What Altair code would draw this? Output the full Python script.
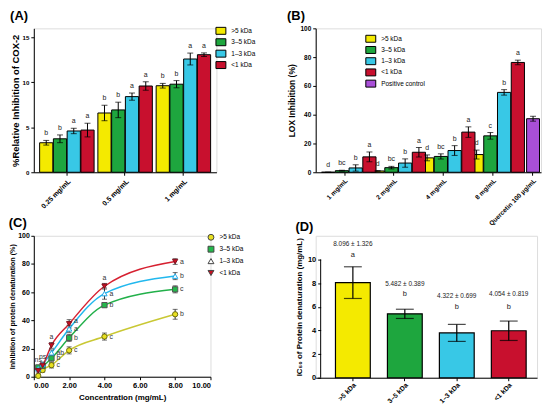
import altair as alt
import pandas as pd

FONT = "Liberation Sans"
fractions = [">5 kDa", "3–5 kDa", "1–3 kDa", "<1 kDa"]
bar_colors = ["#f4ea00", "#1ea63e", "#38c8e6", "#c8102e"]
purple = "#a94fd8"

# ---------- (A) COX-2 ----------
a_conc = ["0.25 mg/mL", "0.5 mg/mL", "1 mg/mL"]
a_mean = [[3.28, 6.59, 9.62], [3.72, 6.93, 9.79], [4.59, 8.41, 12.59], [4.69, 9.59, 13.07]]
a_sd = [[0.26, 0.86, 0.26], [0.43, 0.86, 0.4], [0.3, 0.4, 0.66], [0.76, 0.47, 0.2]]
a_let = [["b", "b", "b"], ["b", "b", "b"], ["a", "a", "a"], ["a", "a", "a"]]

# ---------- (B) LOX ----------
b_conc = ["1 mg/mL", "2 mg/mL", "4 mg/mL", "8 mg/mL"]
b_mean = [[0.0, 0.9, 10.0, 12.3], [1.1, 3.2, 11.0, 25.3], [3.0, 6.4, 15.1, 55.5], [10.7, 13.9, 27.9, 76.3]]
b_sd = [[0.0, 0.2, 2.05, 3.1], [0.3, 0.9, 1.8, 2.3], [2.2, 2.9, 3.4, 1.9], [3.4, 3.3, 3.65, 1.6]]
b_let = [["d", "d", "d", "d"], ["bc", "bc", "bc", "c"], ["b", "b", "b", "b"], ["a", "a", "a", "a"]]
q_label = ["Quercetin 100 µg/mL"]
q_mean = [37.2]
q_sd = [1.7]

# ---------- (C) protein denaturation ----------
c_x = [0.25, 0.5, 1, 2, 4, 8]
c_mean = [[0.6, 4.7, 8.2, 18.7, 28.5, 44.3],
          [6.6, 7.7, 13.1, 27.6, 50.8, 62.0],
          [5.6, 8.9, 17.0, 34.0, 59.0, 71.4],
          [4.2, 8.0, 22.2, 37.5, 64.2, 81.7]]
c_sd = [[0.8, 1.4, 2.0, 2.5, 2.5, 3.5],
        [1.5, 1.5, 2.0, 2.5, 1.5, 2.5],
        [1.5, 1.5, 2.0, 2.5, 4.0, 2.5],
        [1.5, 1.5, 2.0, 3.0, 2.0, 2.0]]
c_right = [(1, 17.0, "ab"), (1, 13.1, "b"), (1, 8.2, "c"),
           (2, 39.5, "a"), (2, 34.0, "a"), (2, 27.6, "b"), (2, 18.7, "c"),
           (4, 59.0, "a"), (4, 50.8, "b"), (4, 28.5, "c"),
           (8, 81.7, "a"), (8, 71.4, "b"), (8, 62.0, "c"), (8, 44.3, "b")]
c_above = [(1, 24.5, "a"), (4, 66.5, "a"), (0.25, 8.5, "ns"), (0.5, 10.5, "ns")]
line_colors = ["#c9c834", "#22b04a", "#22b8ee", "#d62030"]
pt_fill = ["#e8e020", "#22b84a", "#ffffff", "#c81020"]
pt_stroke = ["#6a6a10", "#555555", "#1ea8e8", "#801020"]

# ---------- (D) IC50 ----------
d_mean = [8.04, 5.40, 3.79, 3.97]
d_sd = [1.34, 0.39, 0.72, 0.82]
d_text = ["8.096 ± 1.326", "5.482 ± 0.389", "4.322 ± 0.699", "4.054 ± 0.819"]
d_text_y = [11.3, 7.9, 6.87, 7.05]
d_let = ["a", "b", "b", "b"]
d_let_y = [10.4, 7.08, 5.95, 5.95]


def ax(**kw):
    base = dict(domainColor="black", tickColor="black", domainWidth=1, tickWidth=1, tickSize=3,
                labelFont=FONT, labelFontWeight="bold", labelFontSize=7, labelColor="black",
                labelPadding=2, labelOverlap=False, titleFont=FONT, titleFontWeight="bold",
                titleFontSize=9, titleColor="black", grid=False)
    base.update(kw)
    return alt.Axis(**base)


def ptitle(t):
    return alt.Title(t, anchor="start", frame="bounds", font=FONT, fontSize=13,
                     fontWeight="bold", color="black", offset=2)


def legend(x, y, rowpad, **kw):
    base = dict(title=None, orient="none", legendX=x, legendY=y, labelFont=FONT, labelFontSize=6.5,
                labelColor="black", rowPadding=rowpad, symbolStrokeColor="black",
                symbolStrokeWidth=1, labelOffset=5)
    base.update(kw)
    return alt.Legend(**base)


rect_sym = "M-1,-0.7H1V0.7H-1Z"

# ---- A ----
rows = []
for i, f in enumerate(fractions):
    for j, c in enumerate(a_conc):
        m, s = a_mean[i][j], a_sd[i][j]
        rows.append(dict(conc=c, frac=f, mean=m, lo=m - s, hi=m + s, letter=a_let[i][j]))
dfA = pd.DataFrame(rows)
axAy = ax(values=[0, 5, 10, 15], titleFontSize=9.5, labelFontSize=6.2, titlePadding=2)
tA = "%Relative Inhibition of COX-2"
scA = alt.Scale(domain=[0, 15])
baseA = alt.Chart(dfA).encode(
    x=alt.X("conc:N", sort=a_conc, title=None,
            scale=alt.Scale(paddingInner=0.065, paddingOuter=0.1),
            axis=ax(labelAngle=-45)),
    xOffset=alt.XOffset("frac:N", sort=fractions, scale=alt.Scale(paddingInner=0.04)),
)
barsA = baseA.mark_bar(stroke="black", strokeWidth=1).encode(
    y=alt.Y("mean:Q", scale=scA, title=tA, axis=axAy),
    color=alt.Color("frac:N", scale=alt.Scale(domain=fractions, range=bar_colors),
                    legend=legend(183, -3, 0.5, symbolType=rect_sym, symbolSize=100)))
ruleA = baseA.mark_rule(color="black").encode(
    y=alt.Y("lo:Q", title=tA, axis=axAy), y2="hi:Q")
capHA = baseA.mark_tick(color="black", thickness=1, size=6).encode(
    y=alt.Y("hi:Q", title=tA, axis=axAy))
capLA = baseA.mark_tick(color="black", thickness=1, size=6).encode(
    y=alt.Y("lo:Q", title=tA, axis=axAy))
txtA = baseA.mark_text(font=FONT, fontSize=7, baseline="bottom", dy=-4, color="#222").encode(
    y=alt.Y("hi:Q", title=tA, axis=axAy), text="letter:N")
chartA = alt.layer(barsA, ruleA, capHA, capLA, txtA).properties(
    width=184, height=145, title=ptitle("(A)"))

# ---- B ----
rows = []
for i, f in enumerate(fractions):
    for j, c in enumerate(b_conc):
        m, s = b_mean[i][j], b_sd[i][j]
        rows.append(dict(conc=c, frac=f, mean=m, lo=m - s, hi=m + s, letter=b_let[i][j]))
dfB = pd.DataFrame(rows)
axBy = ax(values=[0, 20, 40, 60, 80, 100], titleFontSize=8.5, labelFontSize=6.5)
tB = "LOX Inhibition (%)"
scB = alt.Scale(domain=[0, 100])
baseB = alt.Chart(dfB).encode(
    x=alt.X("conc:N", sort=b_conc, title=None,
            scale=alt.Scale(paddingInner=0.07, paddingOuter=0.312, align=0.19),
            axis=ax(labelAngle=-45, labelFontSize=6.5)),
    xOffset=alt.XOffset("frac:N", sort=fractions, scale=alt.Scale(paddingInner=0.04)),
)
barsB = baseB.mark_bar(stroke="black", strokeWidth=1).encode(
    y=alt.Y("mean:Q", scale=scB, title=tB, axis=axBy),
    color=alt.Color("frac:N", scale=alt.Scale(domain=fractions + ["Positive control"],
                                              range=bar_colors + [purple]),
                    legend=legend(50, 5, 0.3, symbolType=rect_sym, symbolSize=100)))
ruleB = baseB.mark_rule(color="black").encode(y=alt.Y("lo:Q", title=tB, axis=axBy), y2="hi:Q")
capHB = baseB.mark_tick(color="black", thickness=1, size=6).encode(
    y=alt.Y("hi:Q", title=tB, axis=axBy))
capLB = baseB.mark_tick(color="black", thickness=1, size=6).encode(
    y=alt.Y("lo:Q", title=tB, axis=axBy))
txtB = baseB.mark_text(font=FONT, fontSize=7, baseline="bottom", dy=-4, color="#222").encode(
    y=alt.Y("hi:Q", title=tB, axis=axBy), text="letter:N")
layerB4 = alt.layer(barsB, ruleB, capHB, capLB, txtB)

dfQ = pd.DataFrame(dict(conc=q_label, mean=q_mean, lo=[m - s for m, s in zip(q_mean, q_sd)],
                        hi=[m + s for m, s in zip(q_mean, q_sd)]))
baseQ = alt.Chart(dfQ).encode(
    x=alt.X("conc:N", title=None,
            scale=alt.Scale(paddingInner=0.848, paddingOuter=1, align=1),
            axis=ax(labelAngle=-45, labelFontSize=6.5, orient="bottom", domain=False)))
barQ = baseQ.mark_bar(stroke="black", strokeWidth=1, width=13, color=purple).encode(
    y=alt.Y("mean:Q", title=tB, axis=axBy))
ruleQ = baseQ.mark_rule(color="black").encode(y=alt.Y("lo:Q", title=tB, axis=axBy), y2="hi:Q")
capHQ = baseQ.mark_tick(color="black", thickness=1, size=6).encode(
    y=alt.Y("hi:Q", title=tB, axis=axBy))
capLQ = baseQ.mark_tick(color="black", thickness=1, size=6).encode(
    y=alt.Y("lo:Q", title=tB, axis=axBy))
layerQ = alt.layer(barQ, ruleQ, capHQ, capLQ)

chartB = alt.layer(layerB4, layerQ).resolve_scale(x="independent").properties(
    width=227, height=145, title=ptitle("(B)"))

# ---- C ----
rows = []
for i, f in enumerate(fractions):
    for j, xv in enumerate(c_x):
        m, s = c_mean[i][j], c_sd[i][j]
        rows.append(dict(x=xv, frac=f, mean=m, lo=m - s, hi=m + s))
dfC = pd.DataFrame(rows)
axCx = ax(values=[0, 2, 4, 6, 8, 10], format=".2f", labelFontSize=7.5, titleFontSize=8)
axCy = ax(values=[0, 20, 40, 60, 80, 100], labelFontSize=7, titleFontSize=7.2,
          labelPadding=1.5, titlePadding=1)
tCx = "Concentration (mg/mL)"
tCy = "Inhibition of protein denaturation (%)"
xC = alt.X("x:Q", scale=alt.Scale(domain=[0, 10]), title=tCx, axis=axCx)
xC2 = alt.X("x:Q", title=tCx, axis=axCx)
lineC = alt.Chart(dfC).mark_line(interpolate="monotone", strokeWidth=1.5).encode(
    x=xC, y=alt.Y("mean:Q", scale=alt.Scale(domain=[0, 100]), title=tCy, axis=axCy),
    stroke=alt.Stroke("frac:N", sort=fractions,
                      scale=alt.Scale(domain=fractions, range=line_colors), legend=None))
errC = alt.Chart(dfC).mark_errorbar(ticks={"size": 5, "color": "#333"}, color="#333").encode(
    x=xC2, y=alt.Y("lo:Q", title=tCy, axis=axCy), y2="hi:Q")
legC = legend(175, -2, 1.0, symbolSize=35, labelFontSize=6.5, symbolStrokeColor="#444")
ptC = alt.Chart(dfC).mark_point(filled=True, size=28, strokeWidth=1, opacity=1).encode(
    x=xC2, y=alt.Y("mean:Q", title=tCy, axis=axCy),
    shape=alt.Shape("frac:N", sort=fractions,
                    scale=alt.Scale(domain=fractions,
                                    range=["circle", "square", "triangle-up", "triangle-down"]),
                    legend=legC),
    color=alt.Color("frac:N", sort=fractions, scale=alt.Scale(domain=fractions, range=pt_fill),
                    legend=legC),
    stroke=alt.Stroke("frac:N", sort=fractions, scale=alt.Scale(domain=fractions, range=pt_stroke),
                      legend=None))
dfCr = pd.DataFrame(c_right, columns=["x", "y", "t"])
dfCa = pd.DataFrame(c_above, columns=["x", "y", "t"])
txtCr = alt.Chart(dfCr).mark_text(font=FONT, fontSize=7, align="left", dx=5, color="#333").encode(
    x=xC2, y=alt.Y("y:Q", title=tCy, axis=axCy), text="t:N")
txtCa = alt.Chart(dfCa).mark_text(font=FONT, fontSize=7, baseline="bottom", dy=-2, color="#333").encode(
    x=xC2, y=alt.Y("y:Q", title=tCy, axis=axCy), text="t:N")
chartC = alt.layer(lineC, errC, ptC, txtCr, txtCa).resolve_scale(stroke="independent").properties(
    width=178, height=142, title=ptitle("(C)"))

# ---- D ----
dfD = pd.DataFrame(dict(frac=fractions, mean=d_mean, lo=[m - s for m, s in zip(d_mean, d_sd)],
                        hi=[m + s for m, s in zip(d_mean, d_sd)], label=d_text, label_y=d_text_y,
                        letter=d_let, letter_y=d_let_y))
axDy = ax(values=[0, 2, 4, 6, 8, 10], labelFontSize=7.5, titleFontSize=8, domain=False, offset=-5)
tD = "IC₅₀ of Protein denaturation (mg/mL)"
baseD = alt.Chart(dfD).encode(
    x=alt.X("frac:N", sort=fractions, title=None,
            scale=alt.Scale(paddingInner=0.33, paddingOuter=0.295, align=0.645),
            axis=ax(labelAngle=-45, labelFontSize=6.8, labelPadding=1)))
barsD = baseD.mark_bar(stroke="black", strokeWidth=1.2).encode(
    y=alt.Y("mean:Q", scale=alt.Scale(domain=[0, 11.17]), title=tD, axis=axDy),
    color=alt.Color("frac:N", scale=alt.Scale(domain=fractions, range=bar_colors), legend=None))
axisD = alt.Chart(dfD.head(1)).mark_rule(color="black", strokeWidth=1).encode(
    x=alt.value(5), y=alt.Y(datum=0, title=tD, axis=axDy), y2=alt.datum(10))
ruleD = baseD.mark_rule(color="black", strokeWidth=1.2).encode(
    y=alt.Y("lo:Q", title=tD, axis=axDy), y2="hi:Q")
capHD = baseD.mark_tick(color="black", thickness=1.2, size=18).encode(
    y=alt.Y("hi:Q", title=tD, axis=axDy))
capLD = baseD.mark_tick(color="black", thickness=1.2, size=18).encode(
    y=alt.Y("lo:Q", title=tD, axis=axDy))
lblD = baseD.mark_text(font=FONT, fontSize=6.5, color="#222").encode(
    y=alt.Y("label_y:Q", title=tD, axis=axDy), text="label:N")
letD = baseD.mark_text(font=FONT, fontSize=7.5, color="#222").encode(
    y=alt.Y("letter_y:Q", title=tD, axis=axDy), text="letter:N")
chartD = alt.layer(barsD, axisD, ruleD, capHD, capLD, lblD, letD).properties(
    width=223, height=143, title=ptitle("(D)"))

chart = alt.concat(chartA, chartB, chartC, chartD, columns=2, bounds="flush",
                   spacing={"row": 64, "column": 100}).resolve_scale(
    color="independent", fill="independent", stroke="independent", shape="independent"
).configure_view(stroke=None).configure_axis(labelOverlap=False).configure(
    background="white", padding=0)

chart.save("out.html", embed_options={"renderer": "svg", "actions": False})
